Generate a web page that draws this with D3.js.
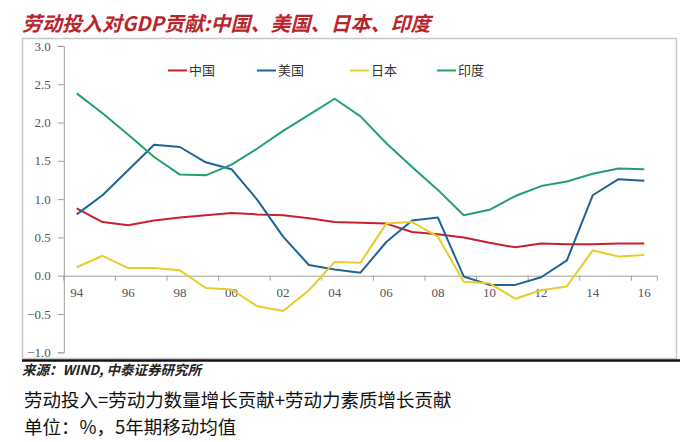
<!DOCTYPE html>
<html><head><meta charset="utf-8">
<script src="https://cdn.jsdelivr.net/npm/d3@7"></script>
<style>body{margin:0;background:#fff}svg{display:block}</style>
</head><body>
<svg id="c" width="688" height="442"></svg>
<script>
const years = [1994,1995,1996,1997,1998,1999,2000,2001,2002,2003,2004,2005,2006,2007,2008,2009,2010,2011,2012,2013,2014,2015,2016];
const tickLabels = ["94","96","98","00","02","04","06","08","10","12","14","16"];
const yTicks = [-1.0,-0.5,0.0,0.5,1.0,1.5,2.0,2.5,3.0];
const china = [0.88,0.70,0.66,0.72,0.76,0.79,0.82,0.80,0.79,0.75,0.70,0.69,0.68,0.57,0.54,0.50,0.43,0.37,0.42,0.41,0.41,0.42,0.42];
const usa   = [0.80,1.05,1.38,1.71,1.68,1.48,1.39,0.99,0.51,0.14,0.08,0.04,0.44,0.72,0.76,-0.01,-0.12,-0.12,-0.02,0.20,1.05,1.26,1.24];
const japan = [0.11,0.26,0.10,0.10,0.07,-0.16,-0.18,-0.40,-0.46,-0.19,0.18,0.17,0.68,0.70,0.51,-0.08,-0.10,-0.30,-0.19,-0.14,0.33,0.25,0.27];
const india = [2.38,2.12,1.84,1.55,1.32,1.31,1.45,1.66,1.89,2.10,2.31,2.08,1.73,1.42,1.12,0.79,0.86,1.04,1.17,1.23,1.33,1.40,1.39];
const seriesNames = ["中国","美国","日本","印度"];
const colors = ["#c8202f","#1f6496","#e6cd2c","#25a06a"];
const seriesData = [china, usa, japan, india];

const svg = d3.select("#c");
const x = d3.scaleBand().domain(years).range([63.8, 657.2]);
const bw = x.bandwidth();
const cx = d => x(d) + bw/2;
const y = d3.scaleLinear().domain([-1, 3]).range([352.3, 45.9]);

// frame
svg.append("rect").attr("x",22.5).attr("y",38.5).attr("width",654).attr("height",320)
  .attr("fill","none").attr("stroke","#c8c8c8").attr("stroke-width",1.5);
svg.append("line").attr("x1",22).attr("x2",680).attr("y1",360.5).attr("y2",360.5)
  .attr("stroke","#111").attr("stroke-width",2.5);

// title
svg.append("text").attr("x",22).attr("y",31).text("劳动投入对GDP贡献:中国、美国、日本、印度")
  .attr("font-family","Noto Sans CJK SC").attr("font-size",20).attr("font-weight","bold")
  .attr("font-style","italic").attr("fill","#b8262c");

// y axis
const yAxis = d3.axisLeft(y).tickValues(yTicks).tickFormat(d3.format(".1f")).tickSize(6).tickPadding(7);
const gy = svg.append("g").attr("transform","translate(63.8,0)").call(yAxis);
gy.select(".domain").attr("stroke","#a0a0a0");
gy.selectAll(".tick line").attr("stroke","#a0a0a0");
gy.selectAll("text").attr("font-family","Liberation Serif").attr("font-size",13).attr("fill","#555");

// x axis at zero
const xAxis = d3.axisBottom(x).tickValues(years.filter((d,i)=>i%2===0)).tickSize(0).tickPadding(12)
  .tickFormat((d,i) => tickLabels[i]);
const gx = svg.append("g").attr("transform",`translate(0,${y(0)})`).call(xAxis);
gx.select(".domain").attr("stroke","#a0a0a0");
gx.selectAll("text").attr("font-family","Liberation Serif").attr("font-size",13).attr("fill","#555");
gx.selectAll(".bt").data(years.filter((d,i)=>i%2===0)).enter().append("line")
  .attr("x1",d=>x(d)).attr("x2",d=>x(d)).attr("y1",0).attr("y2",5).attr("stroke","#a0a0a0");
gx.append("line").attr("x1",657.2).attr("x2",657.2).attr("y1",0).attr("y2",5).attr("stroke","#a0a0a0");

// lines
const line = d3.line().x((d,i)=>cx(years[i])).y(d=>y(d));
seriesData.forEach((s,k)=>{
  svg.append("path").datum(s).attr("d",line).attr("fill","none")
    .attr("stroke",colors[k]).attr("stroke-width",2).attr("stroke-linejoin","round");
});

// legend
const legX = [168,257,350,437];
seriesNames.forEach((n,k)=>{
  svg.append("line").attr("x1",legX[k]).attr("x2",legX[k]+19).attr("y1",70.5).attr("y2",70.5)
    .attr("stroke",colors[k]).attr("stroke-width",2);
  svg.append("text").attr("x",legX[k]+21).attr("y",75).text(n)
    .attr("font-family","Noto Sans CJK SC").attr("font-size",13).attr("fill","#333");
});

// source and notes
svg.append("text").attr("x",22).attr("y",375).text("来源：WIND, 中泰证券研究所")
  .attr("font-family","Noto Sans CJK SC").attr("font-size",13.5).attr("font-weight","bold")
  .attr("font-style","italic").attr("fill","#222");
svg.append("text").attr("x",24).attr("y",407).text("劳动投入=劳动力数量增长贡献+劳动力素质增长贡献")
  .attr("font-family","Noto Sans CJK SC").attr("font-size",18.5).attr("fill","#111");
svg.append("text").attr("x",24).attr("y",434).text("单位：%，5年期移动均值")
  .attr("font-family","Noto Sans CJK SC").attr("font-size",18.5).attr("fill","#111");
</script>
</body></html>
